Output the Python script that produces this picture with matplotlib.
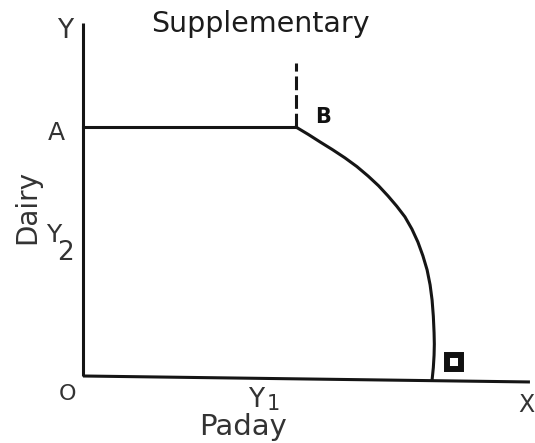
import matplotlib
matplotlib.use("Agg")
import matplotlib.pyplot as plt

# ---- data (diagram units: origin O = (0, 0), A = 10) ----
axis_y_top = 14.18
axis_x_end = [17.95, -0.24]          # x-axis end point (slightly sloped as in reference)
flat_x = [0.0, 8.55]                 # A -> B horizontal segment
flat_y = [10.0, 10.0]
dash_x = [8.55, 8.55]                # dashed vertical above B
dash_y = [10.0, 12.57]
curve_x = [8.55, 9.05, 9.52, 10.02, 10.52, 11.00, 11.45, 11.87, 12.25, 12.60, 12.93,
           13.21, 13.45, 13.65, 13.82, 13.94, 14.02, 14.07, 14.10, 14.11, 14.10, 14.07, 14.02]
curve_y = [10.0, 9.70, 9.40, 9.09, 8.76, 8.41, 8.03, 7.64, 7.23, 6.82, 6.39,
           5.90, 5.38, 4.83, 4.26, 3.66, 3.05, 2.40, 1.73, 1.28, 0.84, 0.34, -0.16]

title = "Supplementary"
x_label = "Paday"
y_label = "Dairy"

fig = plt.figure(figsize=(5.35, 4.43), dpi=100)
ax = fig.add_axes([0, 0, 1, 1])
ax.set_xlim(-3.333, 18.153)
ax.set_ylim(-2.691, 15.100)
ax.axis("off")

lc = "#151515"
tc = "#333333"
lw = 2.2

# axes
ax.plot([0, 0], [0, axis_y_top], color=lc, lw=lw, solid_capstyle="butt")
ax.plot([0, axis_x_end[0]], [0, axis_x_end[1]], color=lc, lw=lw, solid_capstyle="butt")
# frontier
ax.plot(flat_x, flat_y, color=lc, lw=lw)
ax.plot(curve_x, curve_y, color=lc, lw=lw, solid_joinstyle="round")
ax.plot(dash_x, dash_y, color=lc, lw=lw, linestyle=(0, (4.5, 1.6)))

fam = "DejaVu Sans"
ax.text(7.11, 13.81, title, fontsize=20.5, color="#1c1c1c", ha="center", va="baseline", family=fam)
ax.text(-0.72, 13.57, "Y", fontsize=19, color=tc, ha="center", va="baseline", family=fam)
ax.text(-1.06, 9.48, "A", fontsize=18, color=tc, ha="center", va="baseline", family=fam)
ax.text(-2.25, 6.79, y_label, fontsize=20, color=tc, ha="center", va="center", rotation=90, family=fam)
ax.text(-1.16, 5.38, "Y", fontsize=18, color=tc, ha="center", va="baseline", family=fam)
ax.text(-0.72, 4.66, "2", fontsize=19, color=tc, ha="center", va="baseline", family=fam)
ax.text(-0.62, -0.96, "O", fontsize=16, color=tc, ha="center", va="baseline", family=fam)
ax.text(17.80, -1.45, "X", fontsize=17, color=tc, ha="center", va="baseline", family=fam)
ax.text(6.95, -1.24, "Y", fontsize=19, color=tc, ha="center", va="baseline", family=fam)
ax.text(7.65, -1.36, "1", fontsize=15, color=tc, ha="center", va="baseline", family=fam)
ax.text(6.43, -2.37, x_label, fontsize=21, color=tc, ha="center", va="baseline", family=fam)
ax.text(9.64, 10.16, "B", fontsize=15, color="#111111", ha="center", va="baseline",
        family=fam, fontweight="bold")
# point label box near C
ax.plot([14.90], [0.56], marker="s", markersize=9.5, markerfacecolor="white",
        markeredgecolor="#111111", markeredgewidth=4.3)

fig.savefig("out.png", dpi=100)
